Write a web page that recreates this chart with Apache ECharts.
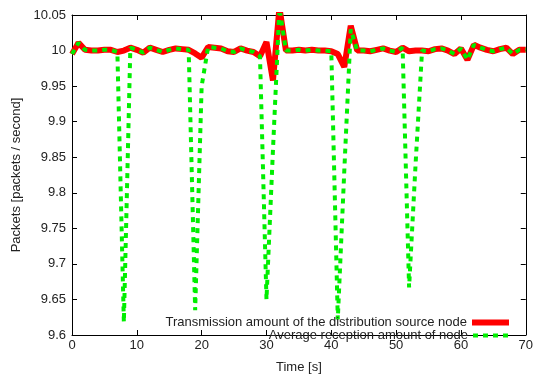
<!DOCTYPE html>
<html>
<head>
<meta charset="utf-8">
<script src="https://cdn.jsdelivr.net/npm/echarts@6/dist/echarts.min.js"></script>
<style>
  html, body { margin: 0; padding: 0; background: #fff; }
  #chart { width: 536px; height: 379px; }
</style>
</head>
<body>
<div id="chart"></div>
<script>
const times = [0, 1, 2, 3, 4, 5, 6, 7, 8, 9, 10, 11, 12, 13, 14, 15, 16, 17, 18, 19, 20,
  21, 22, 23, 24, 25, 26, 27, 28, 29, 30, 31, 32, 33, 34, 35, 36, 37, 38, 39, 40,
  41, 42, 43, 44, 45, 46, 47, 48, 49, 50, 51, 52, 53, 54, 55, 56, 57, 58, 59, 60,
  61, 62, 63, 64, 65, 66, 67, 68, 69, 70];

const sourceValues = [9.995, 10.011, 10.001, 10.0, 10.0, 10.001, 10.001, 9.998, 10.0, 10.004, 10.001,
  9.997, 10.004, 10.001, 9.998, 10.001, 10.003, 10.002, 10.001, 9.996, 9.99,
  10.005, 10.004, 10.003, 9.999, 9.998, 10.003, 10.0, 9.998, 9.992, 10.012,
  9.958, 10.06, 10.0, 10.0, 10.001, 10.0, 10.001, 10.0, 10.0, 9.999,
  9.995, 9.977, 10.035, 10.0, 10.0, 9.999, 10.001, 10.003, 10.0, 9.998,
  10.004, 9.999, 10.0, 10.0, 9.999, 10.002, 10.003, 10.0, 9.995, 10.003,
  9.987, 10.008, 10.004, 10.001, 9.999, 10.002, 10.004, 9.995, 10.001, 10.001];

const receptionValues = [9.995, 10.011, 10.001, 10.0, 10.0, 10.001, 10.001, 9.998, 9.618, 10.004, 10.001,
  9.997, 10.004, 10.001, 9.998, 10.001, 10.003, 10.002, 10.001, 9.635, 9.95,
  10.005, 10.004, 10.003, 9.999, 9.998, 10.003, 10.0, 9.998, 9.992, 9.65,
  9.86, 10.06, 10.0, 10.0, 10.001, 10.0, 10.001, 10.0, 10.0, 9.999,
  9.622, 9.83, 10.03, 10.0, 10.0, 9.999, 10.001, 10.003, 10.0, 9.998,
  10.004, 9.667, 9.84, 10.0, 9.999, 10.002, 10.003, 10.0, 9.995, 10.003,
  9.987, 10.008, 10.004, 10.001, 9.999, 10.002, 10.004, 9.995, 10.001, 10.001];

const xTicks = [0, 10, 20, 30, 40, 50, 60, 70];
const yTicks = [9.6, 9.65, 9.7, 9.75, 9.8, 9.85, 9.9, 9.95, 10, 10.05];

const seriesNames = [
  "Transmission amount of the distribution source node",
  "Average reception amount of node"
];

const font = "Liberation Sans, Arial, sans-serif";
const txt = "#222";
const fs = 13;
const red = "#ff0000";
const green = "#00ee00";

const pairs = (vals) => times.map((t, i) => [t, vals[i]]);

const chart = echarts.init(document.getElementById("chart"));

const tickFmt = (v) => String(parseFloat(v.toFixed(2)));

const baseX = {
  type: "value",
  min: xTicks[0],
  max: xTicks[xTicks.length - 1],
  interval: xTicks[1] - xTicks[0],
  splitLine: { show: false },
  axisLine: { show: true, onZero: false, lineStyle: { color: "#000", width: 1 } },
  axisTick: { show: true, inside: true, length: 5, lineStyle: { color: "#000" } },
};
const baseY = {
  type: "value",
  min: yTicks[0],
  max: yTicks[yTicks.length - 1],
  interval: 0.05,
  splitLine: { show: false },
  axisLine: { show: true, onZero: false, lineStyle: { color: "#000", width: 1 } },
  axisTick: { show: true, inside: true, length: 5, lineStyle: { color: "#000" } },
};

// one legend per row so text is right-aligned against the samples
const legendRow = (name, top, lineStyle) => ({
  data: [name],
  right: 24, top: top,
  align: "right",
  itemWidth: 37, itemHeight: 12,
  itemGap: 0, padding: 0,
  itemStyle: { opacity: 0 },
  lineStyle: lineStyle,
  textStyle: { fontSize: fs, color: txt, fontFamily: font },
});

chart.setOption({
  animation: false,
  textStyle: { fontFamily: font },
  grid: { left: 72, right: 10, top: 15, bottom: 33 },
  xAxis: [
    Object.assign({}, baseX, {
      position: "bottom",
      name: "Time [s]",
      nameLocation: "middle",
      nameGap: 26,
      nameTextStyle: { fontSize: fs, color: txt, fontFamily: font },
      axisLabel: { fontSize: fs, color: txt, margin: 4, fontFamily: font },
    }),
    Object.assign({}, baseX, { position: "top", axisLabel: { show: false } }),
  ],
  yAxis: [
    Object.assign({}, baseY, {
      position: "left",
      name: "Packets [packets / second]",
      nameLocation: "middle",
      nameGap: 49,
      nameTextStyle: { fontSize: fs, color: txt, fontFamily: font },
      axisLabel: { fontSize: fs, color: txt, margin: 6, fontFamily: font, formatter: tickFmt },
    }),
    Object.assign({}, baseY, { position: "right", axisLabel: { show: false } }),
  ],
  legend: [
    legendRow(seriesNames[0], 316, { color: red, width: 6, type: "solid" }),
    legendRow(seriesNames[1], 329, { color: green, width: 4, type: [5, 5] }),
  ],
  series: [
    {
      name: seriesNames[0],
      type: "line",
      data: pairs(sourceValues),
      showSymbol: false,
      symbol: "none",
      color: red,
      lineStyle: { color: red, width: 6 },
      clip: true,
    },
    {
      name: seriesNames[1],
      type: "line",
      data: pairs(receptionValues),
      showSymbol: false,
      symbol: "none",
      color: green,
      lineStyle: { color: green, width: 4, type: [5, 5] },
      clip: true,
    },
  ],
});
</script>
</body>
</html>
